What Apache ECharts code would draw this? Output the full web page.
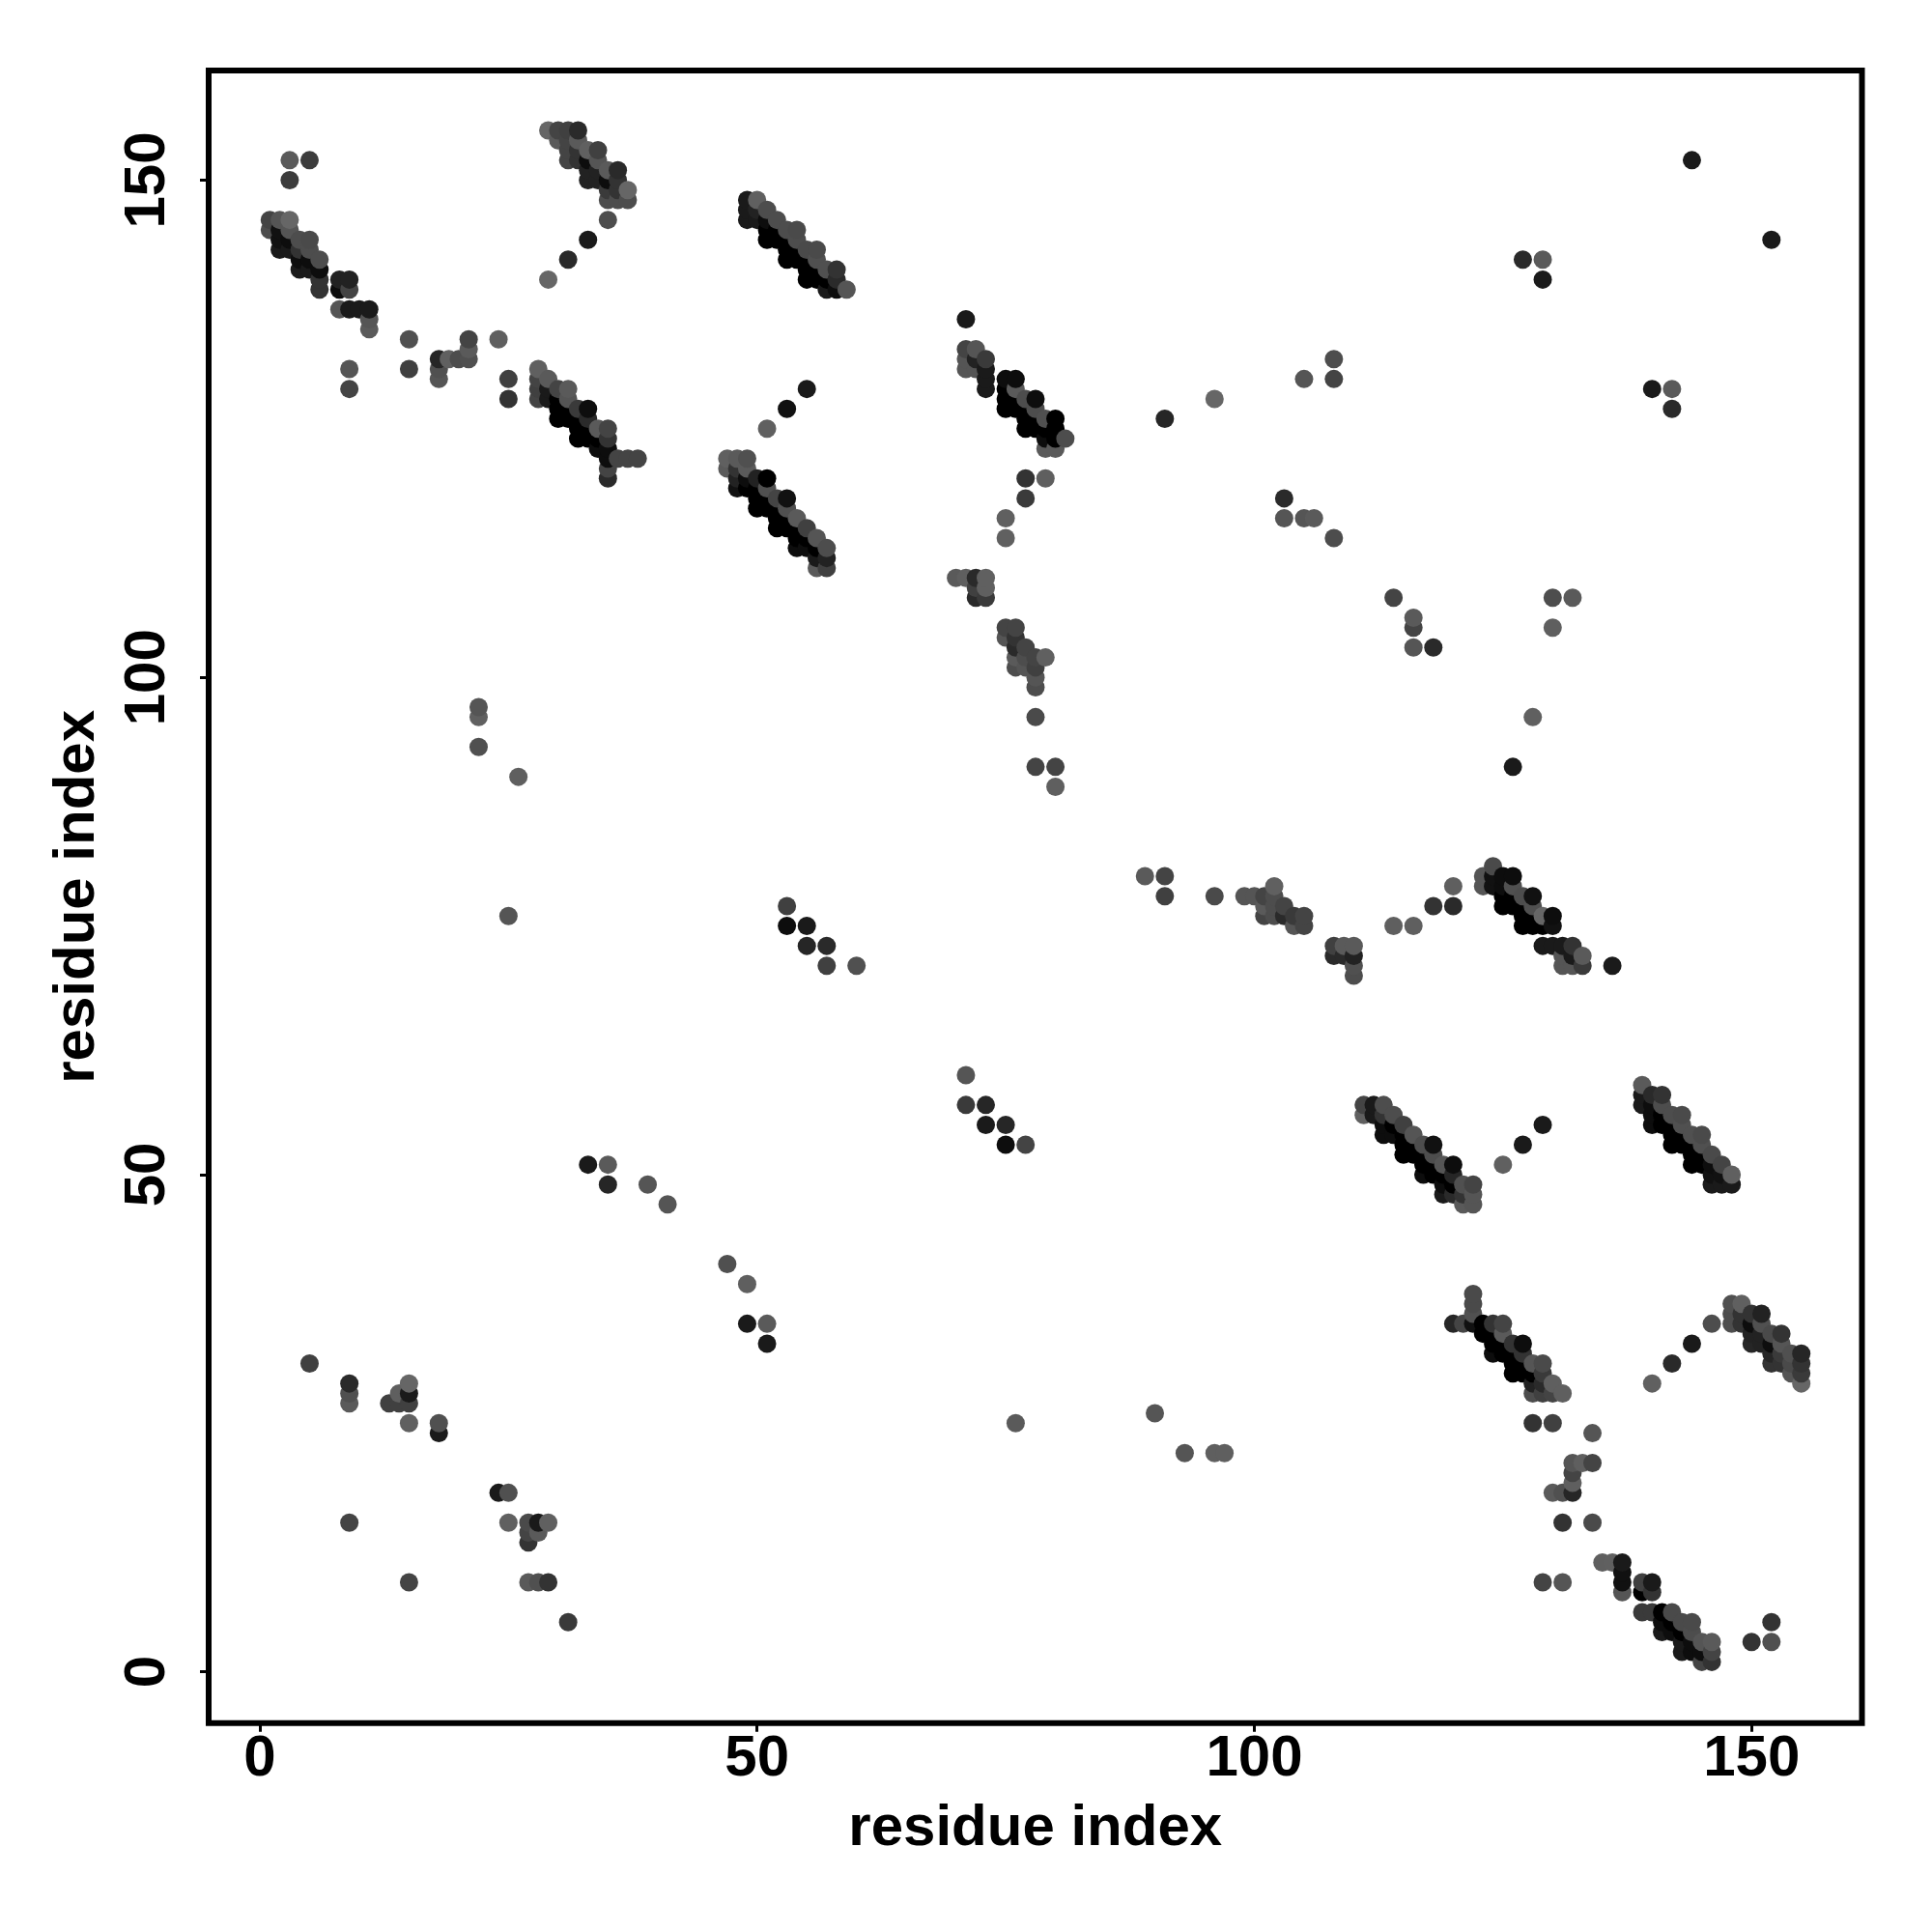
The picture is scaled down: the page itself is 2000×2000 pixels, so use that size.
<!DOCTYPE html>
<html><head><meta charset="utf-8">
<style>html,body{margin:0;padding:0;background:#fff}#c{width:2000px;height:2000px}</style>
<script src="https://cdn.jsdelivr.net/npm/echarts@6/dist/echarts.min.js"></script>
</head><body><div id="c"></div>
<script>
// each contact: [residue i, residue j, grey level]
const tickLabels = [0, 50, 100, 150];
const axisTitle = 'residue index';
const bandA = [[1,146,0x44],[1,145,0x4d],[2,146,0x55],[2,145,0x11],[2,144,0x11],[2,143,0x1a],[3,146,0x66],[3,145,0x55],[3,144,0x0d],[3,143,0x1a],[4,144,0x4d],[4,143,0x33],[4,142,0x0d],[4,141,0x1a],[5,144,0x4a],[5,143,0x4d],[5,142,0x0d],[5,141,0x1a],[6,142,0x4d],[6,141,0x0d],[6,140,0x33],[6,139,0x33]];
const scatterA = [[3,152,0x5a],[5,152,0x3c],[3,150,0x3c],[8,140,0x22],[9,140,0x22],[8,139,0x0d],[9,139,0x44],[8,137,0x55],[9,137,0x1a],[10,137,0x1a],[11,137,0x1a],[11,136,0x55],[11,135,0x5a],[15,134,0x50],[15,131,0x40],[9,131,0x55],[9,129,0x44],[21,134,0x44],[21,133,0x5a],[21,132,0x50],[20,132,0x4d],[19,132,0x60],[18,132,0x26],[18,131,0x50],[18,130,0x55],[24,134,0x5f],[25,130,0x40],[25,128,0x33]];
const bandB = [[29,155,0x66],[30,155,0x44],[31,155,0x40],[32,155,0x2a],[30,154,0x5a],[31,154,0x44],[32,154,0x5a],[31,153,0x44],[32,153,0x33],[33,153,0x60],[34,153,0x40],[31,152,0x44],[32,152,0x33],[33,152,0x0d],[34,152,0x55],[33,151,0x22],[34,151,0x22],[35,151,0x5a],[36,151,0x2a],[33,150,0x22],[34,150,0x22],[35,150,0x0d],[36,150,0x33],[35,149,0x3a],[36,149,0x33],[37,149,0x66],[35,148,0x4d],[36,148,0x4d],[37,148,0x4d],[35,146,0x4d],[33,144,0x1a],[31,142,0x2a],[29,140,0x66]];
const bandC = [[28,131,0x60],[28,130,0x44],[28,129,0x40],[28,128,0x44],[29,130,0x5a],[29,129,0x1a],[29,128,0x1a],[30,129,0x44],[31,129,0x5a],[30,128,0],[31,128,0x55],[30,127,0],[31,127,0],[32,127,0x3a],[33,127,0x0d],[30,126,0],[31,126,0],[32,126,0],[33,126,0x2a],[32,125,0],[33,125,0],[34,125,0x5a],[35,125,0x44],[32,124,0],[33,124,0],[34,124,0],[35,124,0x33],[34,123,0x0d],[35,123,0x0d],[35,122,0x0d],[36,122,0x44],[37,122,0x44],[38,122,0x44],[35,121,0x44],[35,120,0x2a]];
const bandD = [[47,122,0x60],[48,122,0x5a],[49,122,0x50],[47,121,0x5a],[48,121,0x33],[49,121,0x5a],[48,120,0x22],[48,119,0x11],[49,120,0x0d],[49,119,0],[50,120,0x22],[51,120,0],[50,119,0],[51,119,0x50],[50,118,0],[51,118,0],[52,118,0x44],[53,118,0x11],[50,117,0],[51,117,0],[52,117,0],[53,117,0x50],[52,116,0],[53,116,0],[54,116,0x5a],[52,115,0],[53,115,0],[54,115,0],[55,115,0x40],[54,114,0],[55,114,0],[56,114,0x55],[54,113,0x0d],[55,113,0x0d],[56,113,0],[57,113,0x4d],[56,112,0x1a],[57,112,0x22],[56,111,0x5a],[57,111,0x40],[51,125,0x60],[53,127,0x11],[55,129,0x1a]];
const bandE = [[49,148,0x1a],[50,148,0x60],[49,147,0x1a],[50,147,0x22],[49,146,0x1a],[50,146,0x1a],[51,147,0x4d],[51,146,0x0d],[52,146,0x4d],[51,145,0],[52,145,0],[53,145,0x4d],[54,145,0x4a],[51,144,0],[52,144,0],[53,144,0],[54,144,0x4d],[53,143,0],[54,143,0],[55,143,0x4a],[56,143,0x4a],[53,142,0],[54,142,0],[55,142,0],[56,142,0x50],[55,141,0],[56,141,0],[57,141,0x50],[58,141,0x33],[55,140,0],[56,140,0],[57,140,0],[58,140,0x2a],[57,139,0x1a],[58,139,0x0d],[59,139,0x55]];
const bandF = [[71,136,0x1a],[71,133,0x44],[72,133,0x55],[71,132,0x55],[72,132,0x22],[73,132,0x3a],[71,131,0x55],[72,131,0x55],[73,131,0x1a],[73,130,0x1a],[73,129,0x1a],[75,130,0x0d],[76,130,0x0d],[75,129,0],[76,129,0x5a],[75,128,0],[76,128,0],[77,128,0x4d],[78,128,0x0d],[75,127,0],[76,127,0],[77,127,0],[78,127,0x4d],[77,126,0],[78,126,0],[79,126,0x50],[80,126,0],[77,125,0],[78,125,0],[79,125,0],[80,125,0],[79,124,0x0d],[80,124,0],[81,124,0x4d],[79,123,0x5a],[80,123,0x5a],[77,120,0x33],[79,120,0x5f],[77,118,0x3a],[75,116,0x60],[75,114,0x60]];
const clusterG = [[70,110,0x5a],[71,110,0x5f],[72,110,0x2a],[73,110,0x60],[72,109,0x40],[73,109,0x60],[72,108,0x2a],[73,108,0x3a],[75,105,0x44],[76,105,0x44],[75,104,0x55],[76,104,0x33],[76,103,0x2a],[77,103,0x44],[76,102,0x5a],[77,102,0x4d],[78,102,0x44],[79,102,0x60],[76,101,0x4d],[77,101,0x55],[78,101,0x40],[78,100,0x55],[78,99,0x4d],[78,96,0x4a],[78,91,0x44],[80,91,0x44],[80,89,0x5f]];
const scatterB = [[91,126,0x26],[96,128,0x66],[105,130,0x55],[108,132,0x4d],[108,130,0x44],[103,118,0x2a],[103,116,0x55],[105,116,0x55],[106,116,0x5a],[108,114,0x4d],[114,108,0x44],[116,106,0x5a],[116,105,0x44],[116,103,0x55],[118,103,0x2a],[130,108,0x4d],[132,108,0x5a],[130,105,0x5f],[128,96,0x60],[126,91,0x1a],[127,142,0x2a],[129,142,0x5a],[129,140,0x1a],[152,144,0x1a],[144,152,0x1a],[140,129,0x1a],[142,129,0x5a],[142,127,0x2a]];
const scatterC = [[22,97,0x55],[22,96,0x60],[22,93,0x50],[26,90,0x5f],[25,76,0x55],[53,77,0x40],[53,75,0x0d],[55,75,0x1a],[55,73,0x26],[57,73,0x2a],[57,71,0x40],[60,71,0x50],[89,80,0x5a],[91,80,0x44],[91,78,0x40],[96,78,0x4a]];
const clusterH = [[99,78,0x55],[100,78,0x55],[101,78,0x44],[102,79,0x60],[102,78,0x4d],[101,77,0x5a],[102,77,0x4d],[103,77,0x44],[101,76,0x44],[102,76,0x4d],[103,76,0x2a],[104,76,0x3a],[105,76,0x44],[104,75,0x55],[105,75,0x44],[108,73,0x40],[109,73,0x5a],[110,73,0x5a],[108,72,0x2a],[109,72,0x2a],[110,72,0x22],[110,71,0x50],[110,70,0x4d],[114,75,0x5f],[116,75,0x5f],[118,77,0x33],[120,77,0x2a],[120,79,0x5f]];
const bandI = [[123,80,0x55],[124,81,0x4a],[123,79,0x55],[124,80,0x11],[124,79,0x11],[125,80,0x0d],[126,80,0x0d],[125,79,0x0d],[126,79,0x50],[125,78,0],[126,78,0],[127,78,0x4d],[128,78,0x11],[125,77,0],[126,77,0],[127,77,0],[128,77,0x50],[127,76,0],[128,76,0],[129,76,0x66],[130,76,0x0d],[127,75,0],[128,75,0],[129,75,0],[130,75,0x11],[129,73,0x1a],[130,73,0x1a],[131,73,0x1a],[132,73,0x33],[131,72,0x55],[132,72,0x1a],[133,72,0x5a],[131,71,0x55],[132,71,0x55],[133,71,0x3a],[136,71,0x1a]];
const bandJ = [[111,57,0x44],[111,56,0x60],[112,57,0x1a],[112,56,0x1a],[113,57,0x4d],[113,56,0x33],[113,55,0x0d],[113,54,0x0d],[114,56,0x4d],[114,55,0],[114,54,0x0d],[115,55,0x40],[115,54,0],[116,54,0x55],[115,53,0],[115,52,0],[116,53,0],[116,52,0],[117,53,0x4d],[118,53,0x11],[117,52,0],[118,52,0x4d],[117,51,0],[117,50,0x0d],[118,51,0],[118,50,0],[119,51,0x55],[120,51,0x0d],[119,50,0],[120,50,0x26],[119,49,0x0d],[120,49,0],[121,49,0x50],[122,49,0x44],[119,48,0x1a],[120,48,0x2a],[121,48,0x33],[122,48,0x55],[121,47,0x5a],[122,47,0x55],[125,51,0x60],[127,53,0x1a],[129,55,0x1a]];
const bandK = [[139,59,0x5a],[139,58,0x1a],[139,57,0x1a],[140,58,0x2a],[141,58,0x33],[140,57,0x0d],[141,57,0x4d],[140,56,0x0d],[140,55,0x0d],[141,56,0],[141,55,0],[142,56,0x4d],[143,56,0x4a],[142,55,0],[143,55,0x50],[142,54,0],[142,53,0],[143,54,0],[143,53,0],[144,54,0x50],[145,54,0x4a],[144,53,0],[145,53,0x50],[144,52,0],[144,51,0],[145,52,0],[145,51,0],[146,52,0x4a],[147,51,0x44],[146,51,0x0d],[146,50,0x11],[147,50,0x11],[148,50,0x60],[146,49,0x1a],[147,49,0x1a],[148,49,0x1a]];
const bandL = [[122,38,0x4a],[122,37,0x4a],[122,36,0x50],[120,35,0x26],[121,35,0x44],[122,35,0x11],[123,35,0],[124,35,0x33],[125,35,0x44],[123,34,0],[124,34,0],[125,34,0x5a],[124,33,0],[124,32,0x0d],[125,33,0],[125,32,0],[126,33,0x33],[127,33,0x0d],[126,32,0],[127,32,0x33],[126,31,0],[126,30,0],[127,31,0],[127,30,0],[128,31,0x55],[129,31,0x4a],[128,30,0],[129,30,0x3a],[128,29,0x22],[129,29,0x2a],[130,29,0x5f],[128,28,0x4d],[129,28,0x40],[130,28,0x44],[131,28,0x5f],[128,25,0x33],[130,25,0x40],[134,24,0x55]];
const bandM = [[148,37,0x50],[149,37,0x60],[148,36,0x4d],[148,35,0x4d],[149,36,0x33],[149,35,0x33],[150,36,0x33],[151,36,0x22],[150,35,0x0d],[151,35,0x50],[150,34,0x22],[150,33,0x26],[151,34,0x22],[151,33,0x22],[152,34,0x4a],[153,34,0x33],[152,33,0x0d],[153,33,0x55],[152,32,0x26],[152,31,0x33],[153,32,0x3a],[153,31,0x33],[154,32,0x50],[155,32,0x26],[154,31,0x4a],[155,31,0x33],[154,30,0x55],[155,30,0x3a],[155,29,0x66],[146,35,0x4d],[144,33,0x1a],[142,31,0x2a],[140,29,0x60]];
const clusterN = [[132,21,0x55],[133,21,0x5f],[134,21,0x44],[132,20,0x44],[132,19,0x5f],[132,18,0x26],[130,18,0x5a],[131,18,0x50],[131,15,0x33],[134,15,0x4a],[135,11,0x5f],[136,11,0x60],[137,11,0x1a],[137,10,0x11],[137,9,0x11],[137,8,0x55],[129,9,0x44],[131,9,0x55],[139,9,0x40],[140,9,0x1a],[139,8,0],[140,8,0x33]];
const bandO = [[139,6,0x3a],[140,6,0x3a],[141,6,0],[142,6,0x4a],[141,5,0x0d],[142,5,0],[143,5,0x4a],[144,5,0x4a],[141,4,0x1a],[142,4,0x0d],[143,4,0],[144,4,0x4d],[143,3,0x1a],[144,3,0x0d],[145,3,0x55],[146,3,0x5a],[143,2,0x1a],[144,2,0x0d],[145,2,0x0d],[146,2,0x44],[145,1,0x44],[146,1,0x33],[150,3,0x33],[152,3,0x50],[152,5,0x33]];
const scatterD = [[5,31,0x40],[9,29,0x2a],[9,28,0x50],[9,27,0x5a],[13,27,0x40],[14,27,0x40],[15,27,0x40],[14,28,0x5f],[15,28,0x1a],[15,29,0x66],[15,25,0x60],[18,25,0x50],[18,24,0x1a],[24,18,0x1a],[25,18,0x50],[9,15,0x44],[25,15,0x60],[27,15,0x4a],[28,15,0x1a],[29,15,0x60],[27,14,0x44],[28,14,0x5a],[27,13,0x33],[15,9,0x44],[27,9,0x5a],[28,9,0x50],[29,9,0x33],[31,5,0x3a]];
const scatterE = [[33,51,0x1a],[35,51,0x5a],[35,49,0x26],[39,49,0x55],[41,47,0x55],[47,41,0x50],[49,39,0x5f],[49,35,0x1a],[51,35,0x5a],[51,33,0x1a],[71,60,0x55],[71,57,0x3a],[73,57,0x26],[73,55,0x1a],[75,55,0x26],[75,53,0x0d],[77,53,0x44],[76,25,0x5a],[90,26,0x55],[93,22,0x55],[96,22,0x5f],[97,22,0x5f]];

const contacts = [].concat(bandA, scatterA, bandB, bandC, bandD, bandE, bandF, clusterG, scatterB, scatterC, clusterH, bandI, bandJ, bandK, bandL, bandM, clusterN, bandO, scatterD, scatterE)
  .sort((a, b) => a[0] - b[0] || a[1] - b[1]);

const font = 'Liberation Sans';
const axis = (rotated) => ({
  type: 'value',
  min: rotated ? -5.15 : -5.148,
  max: rotated ? 161.02 : 161.1,
  name: axisTitle, nameLocation: 'middle',
  nameGap: rotated ? 106 : 80,
  nameRotate: rotated ? 90 : 0,
  nameTextStyle: {fontFamily: font, fontWeight: 'bold', fontSize: 60, color: '#000'},
  axisLine: {show: false, onZero: false},
  axisTick: {show: true, length: 9, lineStyle: {color: '#000', width: 3}, customValues: tickLabels},
  axisLabel: {show: true, rotate: rotated ? 90 : 0, margin: rotated ? 33 : 8, fontFamily: font, fontWeight: 'bold', fontSize: 60, color: '#000', customValues: tickLabels},
  splitLine: {show: false}
});
const chart = echarts.init(document.getElementById('c'), null, {renderer: 'canvas'});
chart.setOption({
  animation: false,
  backgroundColor: '#fff',
  grid: {left: 216, top: 73, width: 1711.5, height: 1710.7, show: true, borderColor: '#000', borderWidth: 6, backgroundColor: 'transparent'},
  xAxis: axis(false),
  yAxis: axis(true),
  series: [{
    type: 'scatter', symbol: 'circle', symbolSize: 19, large: false, progressive: 0,
    data: contacts,
    encode: {x: 0, y: 1},
    itemStyle: {opacity: 1, color: p => { const g = p.value[2]; return 'rgb(' + g + ',' + g + ',' + g + ')'; }},
    emphasis: {disabled: true}
  }]
});
</script></body></html>
